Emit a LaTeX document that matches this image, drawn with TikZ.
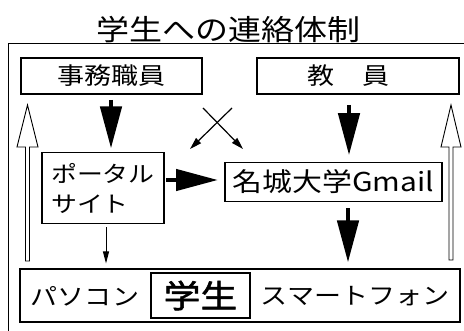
\documentclass[tikz,border=0pt]{standalone}
\usepackage{fontspec}
\setmainfont[FakeStretch=1.15]{Noto Sans CJK JP}
\newfontfamily\jpmed[FakeStretch=1.15,FakeBold=1.6]{Noto Sans CJK JP}
\usetikzlibrary{arrows.meta,calc}
\tikzset{
  thickbox/.style={draw, line width=2.8pt, inner sep=0pt, outer sep=0pt},
  thinbox/.style={draw, line width=1.2pt, inner sep=0pt, outer sep=0pt},
  bigarrow/.style={line width=4.5pt, -{Triangle[width=21pt,length=42pt]}},
  thinarrow/.style={line width=1pt, -{Triangle[width=6pt,length=12pt]}},
  crossarrow/.style={line width=1.2pt, -{Triangle[width=7pt,length=12pt]}},
  openarrow/.style={draw, line width=0.9pt, line join=miter},
  frameline/.style={line width=1pt},
}
\newcommand{\fsz}[1]{\fontsize{#1}{#1}\selectfont}
\begin{document}
\begin{tikzpicture}[x=1pt,y=-1pt]
\useasboundingbox (0,0) rectangle (464,331);
% frame
\draw[frameline] (8,340) -- (8,44) -- (470,44);
% title
\node[inner sep=0pt] (title) at (228.5,30) {\fsz{28.7}学生への連絡体制};
% top boxes
\node[thickbox, minimum width=181pt, minimum height=36pt] (jimu) at (111.5,76) {\fsz{23.5}事務職員};
\node[thickbox, minimum width=202pt, minimum height=36pt] (kyoin) at (358,76) {};
\node[inner sep=0pt] (kyointext) at (348.5,76) {\fsz{23.5}教　員};
% middle boxes
\node[thinbox, minimum width=122pt, minimum height=71pt, align=left, font=\fontsize{22.5}{30}\selectfont] (portal) at (103,188)
  {ポータル\\サイト};
\node[thinbox, minimum width=217pt, minimum height=38.5pt] (gmail) at (333.5,182) {\fsz{26}名城大学Gmail};
% bottom box
\node[thinbox, minimum width=440pt, minimum height=53pt] (bottom) at (240,295.5) {};
\node[inner sep=0pt] (pc) at (85,296) {\fsz{23.5}パソコン};
\node[inner sep=0pt] (sp) at (355,296) {\fsz{23.5}スマートフォン};
\node[thickbox, line width=2.5pt, minimum width=99pt, minimum height=45pt] (gakusei) at (200.5,295.5) {\fsz{32}\jpmed 学生};
% big arrows
\draw[bigarrow, shorten <=6pt, shorten >=4pt] ([xshift=-0.5pt]jimu.south) -- ([xshift=-0.5pt]jimu.south |- portal.north);
\draw[bigarrow, shorten <=11pt, shorten >=7.5pt] ([xshift=-9pt]kyoin.south) -- ([xshift=-9pt]kyoin.south |- gmail.north);
\draw[bigarrow, shorten <=2pt, shorten >=7pt] ([yshift=8pt]portal.east) -- ([yshift=8pt]portal.east -| gmail.west);
\draw[bigarrow, shorten <=7pt, shorten >=6.5pt] ([xshift=14.5pt]gmail.south) -- ([xshift=14.5pt]gmail.south |- bottom.north);
% thin arrow
\draw[thinarrow, shorten <=4pt, shorten >=5.5pt] ([xshift=3pt]portal.south) -- ([xshift=3pt]portal.south |- bottom.north);
% cross arrows
\coordinate (cA1) at (203,108);
\coordinate (cA2) at (243,149);
\coordinate (cB1) at (232,108);
\coordinate (cB2) at (190,149);
\draw[crossarrow] (cA1) -- (cA2);
\draw[crossarrow] (cB1) -- (cB2);
% open arrows
\path[openarrow] (25.5,261) -- (25.5,147) -- (17,147) -- (27.5,105) -- (38,147) -- (29.5,147) -- (29.5,261) -- cycle;
\path[openarrow] (449,260) -- (449,147) -- (441,147) -- (451,105) -- (461,147) -- (453,147) -- (453,260) -- cycle;
\end{tikzpicture}
\end{document}
